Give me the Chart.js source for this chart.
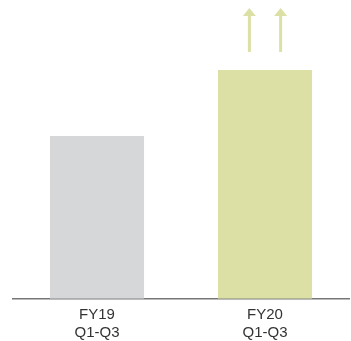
<!DOCTYPE html>
<html><head><meta charset="utf-8">
<script src="https://cdn.jsdelivr.net/npm/chart.js@4/dist/chart.umd.min.js"></script>
<style>html,body{margin:0;padding:0;background:#fff}#wrap{width:351px;height:341px}</style>
</head><body><div id="wrap"><canvas id="c"></canvas></div>
<script>
const categories = [['FY19','Q1-Q3'],['FY20','Q1-Q3']];
const values = [56, 78.7];
const barColors = ['#d6d7d9','#dce0a4'];
// upward-trend arrows over FY20: [from value, to value]
const arrowCategory = 1;
const arrowRange = [84.9, 100];
const arrowOffsets = [-0.166, 0.166]; // fraction of bar width

const arrowPlugin = {
  id:'arrows',
  afterDatasetsDraw(chart){
    const {ctx, scales:{y}} = chart;
    const bar = chart.getDatasetMeta(0).data[arrowCategory];
    const y0 = y.getPixelForValue(arrowRange[0]);
    const y1 = y.getPixelForValue(arrowRange[1]);
    ctx.save();
    ctx.strokeStyle = barColors[1];
    ctx.fillStyle = barColors[1];
    ctx.lineWidth = 3;
    arrowOffsets.forEach(o=>{
      const x = bar.x + o*bar.width;
      ctx.beginPath();
      ctx.moveTo(x, y0);
      ctx.lineTo(x, y1+6);
      ctx.stroke();
      ctx.beginPath();
      ctx.moveTo(x-6.5, y1+8);
      ctx.lineTo(x+6.5, y1+8);
      ctx.lineTo(x, y1);
      ctx.closePath();
      ctx.fill();
    });
    ctx.restore();
  }
};

new Chart(document.getElementById('c'), {
  type:'bar',
  data:{labels:categories, datasets:[{data:values, backgroundColor:barColors, barPercentage:0.56, categoryPercentage:1}]},
  options:{
    responsive:true, maintainAspectRatio:false, animation:false,
    layout:{padding:{left:13,right:2,top:8,bottom:-8.2}},
    plugins:{legend:{display:false}, tooltip:{enabled:false}},
    scales:{
      x:{grid:{display:false, drawTicks:false}, border:{display:true,color:'#777',width:1.5},
         ticks:{color:'#333',padding:8,font:{family:'Liberation Sans, Arial, sans-serif',size:15,lineHeight:1.15}}},
      y:{display:false,min:0,max:100}
    }
  },
  plugins:[arrowPlugin]
});
</script></body></html>
